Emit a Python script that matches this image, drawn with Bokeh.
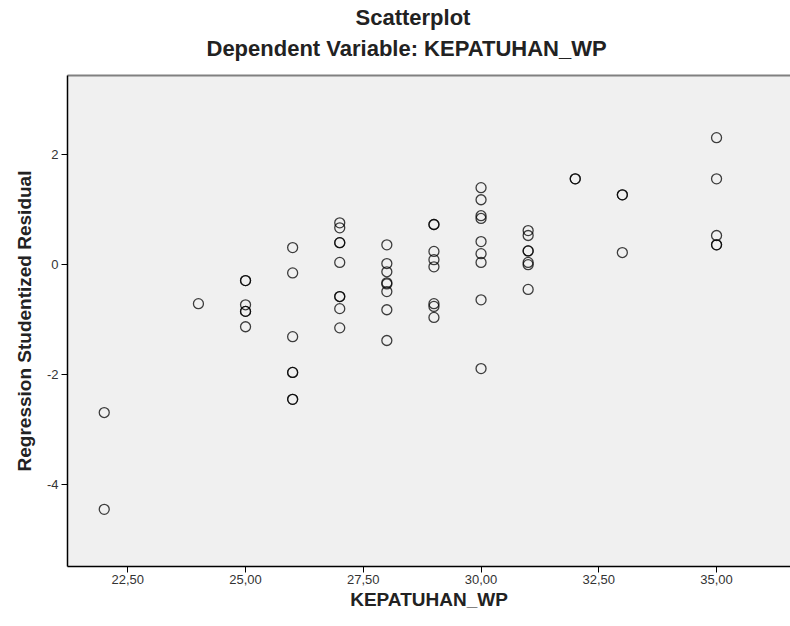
from bokeh.plotting import figure
from bokeh.models import (ColumnDataSource, FixedTicker, CustomJSTickFormatter,
                          LinearAxis, Title, Range1d)
from bokeh.embed import file_html
from bokeh.resources import INLINE

kepatuhan_wp = (
    [22, 22]
    + [24]
    + [25, 25, 25, 25, 25, 25]
    + [26, 26, 26, 26, 26, 26, 26]
    + [27, 27, 27, 27, 27, 27, 27, 27, 27]
    + [28, 28, 28, 28, 28, 28, 28, 28]
    + [29, 29, 29, 29, 29, 29, 29, 29]
    + [30, 30, 30, 30, 30, 30, 30, 30, 30]
    + [31, 31, 31, 31, 31, 31, 31]
    + [32, 32]
    + [33, 33, 33]
    + [35, 35, 35, 35, 35]
)
studentized_residual = (
    [-2.69, -4.45]
    + [-0.71]
    + [-0.29, -0.29, -0.73, -0.85, -0.85, -1.13]
    + [0.31, -0.15, -1.31, -1.96, -1.96, -2.45, -2.45]
    + [0.76, 0.67, 0.40, 0.40, 0.04, -0.58, -0.58, -0.80, -1.15]
    + [0.36, 0.02, -0.13, -0.33, -0.35, -0.49, -0.82, -1.38]
    + [0.73, 0.73, 0.24, 0.09, -0.04, -0.71, -0.76, -0.96]
    + [1.40, 1.18, 0.89, 0.84, 0.42, 0.20, 0.04, -0.64, -1.89]
    + [0.62, 0.53, 0.25, 0.25, 0.04, 0.00, -0.45]
    + [1.56, 1.56]
    + [1.27, 1.27, 0.22]
    + [2.31, 1.56, 0.53, 0.36, 0.36]
)
x_ticks = [22.5, 25.0, 27.5, 30.0, 32.5, 35.0]
y_ticks = [-4, -2, 0, 2]

source = ColumnDataSource(data=dict(x=kepatuhan_wp, y=studentized_residual))

p = figure(width=790, height=626, output_backend="svg", toolbar_location=None,
           x_range=Range1d(21.22, 36.57), y_range=Range1d(-5.49, 3.44),
           x_axis_location="below", y_axis_location="left",
           min_border_left=67, min_border_right=0, min_border_top=75,
           min_border_bottom=60)

p.background_fill_color = "#f0f0f0"
p.border_fill_color = "white"
p.outline_line_color = None
p.grid.visible = False

p.scatter("x", "y", source=source, marker="circle", size=10,
          fill_alpha=0, line_color="black", line_alpha=0.75, line_width=1.3)

font = "Liberation Sans"

xa = p.xaxis[0]
xa.ticker = FixedTicker(ticks=x_ticks)
xa.formatter = CustomJSTickFormatter(code="return tick.toFixed(2).replace('.', ',');")
xa.axis_label = "KEPATUHAN_WP"
xa.axis_label_text_font = font
xa.axis_label_text_font_style = "bold"
xa.axis_label_text_font_size = "19px"
xa.axis_label_text_color = "#222222"
xa.axis_label_standoff = 2
xa.major_label_text_font = font
xa.major_label_text_font_size = "13px"
xa.major_label_text_color = "#333333"
xa.major_label_standoff = 2
xa.major_tick_in = 0
xa.major_tick_out = 6
xa.minor_tick_in = 0
xa.minor_tick_out = 0
xa.axis_line_color = "black"
xa.axis_line_width = 1.5
xa.major_tick_line_color = "black"

ya = p.yaxis[0]
ya.ticker = FixedTicker(ticks=y_ticks)
ya.formatter = CustomJSTickFormatter(code="return tick.toFixed(0);")
ya.axis_label = "Regression Studentized Residual"
ya.axis_label_text_font = font
ya.axis_label_text_font_style = "bold"
ya.axis_label_text_font_size = "19px"
ya.axis_label_text_color = "#222222"
ya.axis_label_standoff = 9
ya.major_label_text_font = font
ya.major_label_text_font_size = "13px"
ya.major_label_text_color = "#333333"
ya.major_label_standoff = 3
ya.major_label_orientation = "horizontal"
ya.major_tick_in = 0
ya.major_tick_out = 6
ya.minor_tick_in = 0
ya.minor_tick_out = 0
ya.axis_line_color = "black"
ya.axis_line_width = 1.5
ya.major_tick_line_color = "black"

# top border as an unlabeled axis
top = LinearAxis(ticker=FixedTicker(ticks=[]), major_tick_in=0, major_tick_out=0,
                 minor_tick_in=0, minor_tick_out=0, major_label_text_font_size="0px",
                 major_label_standoff=0, axis_line_color="#808080", axis_line_width=2)
p.add_layout(top, "above")

# empty spacer between the frame and the subtitle
p.add_layout(Title(text=" ", text_font_size="1px", standoff=10), "above")

p.add_layout(Title(text="Dependent Variable: KEPATUHAN_WP", text_font=font,
                   text_font_style="bold", text_font_size="22px", text_color="#222222",
                   align="left", offset=139, standoff=4), "above")
p.add_layout(Title(text="Scatterplot", text_font=font, text_font_style="bold",
                   text_font_size="22px", text_color="#222222", align="left",
                   offset=288, standoff=4), "above")

open("out.html", "w").write(file_html(p, INLINE))
